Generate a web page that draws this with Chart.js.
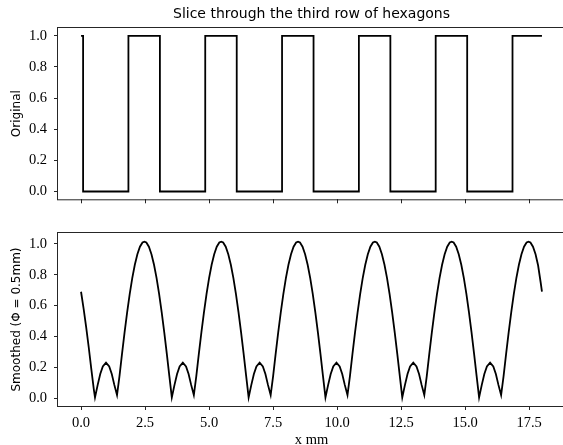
<!DOCTYPE html>
<html lang="en">
<head>
    <meta charset="UTF-8">
    <title>Slice through the third row of hexagons</title>
    <script src="https://cdn.jsdelivr.net/npm/chart.js@4/dist/chart.umd.min.js"></script>
    <style>
        html, body {
            margin: 0;
            padding: 0;
            background: #fff;
            overflow: hidden;
            width: 563px;
            height: 445px;
        }
        canvas {
            position: absolute;
            left: 0;
        }
        #topChart { top: 0; }
        #bottomChart { top: 210px; }
    </style>
</head>
<body>
    <canvas id="topChart" width="600" height="215"></canvas>
    <canvas id="bottomChart" width="600" height="245"></canvas>
    <script>
        // square wave: x where the value changes, value after each step
        const originalX = [0, 0.08, 1.85, 3.08, 4.85, 6.08, 7.85, 9.08, 10.85, 12.08, 13.85, 15.08, 16.85, 18.0];
        const originalY = [1, 0, 1, 0, 1, 0, 1, 0, 1, 0, 1, 0, 1, 1];

        // smoothed profile
        const smoothedX = [
            0, 0.1, 0.2, 0.3, 0.4, 0.5,
            0.545, 0.65, 0.75, 0.85, 0.975, 1.1, 1.2, 1.3, 1.405, 1.5, 1.6, 1.7, 1.8, 1.9, 2.0, 2.1, 2.2, 2.3, 2.4, 2.475, 2.55, 2.65, 2.75, 2.85, 2.95, 3.05, 3.15, 3.25, 3.35, 3.45,
            3.545, 3.65, 3.75, 3.85, 3.975, 4.1, 4.2, 4.3, 4.405, 4.5, 4.6, 4.7, 4.8, 4.9, 5.0, 5.1, 5.2, 5.3, 5.4, 5.475, 5.55, 5.65, 5.75, 5.85, 5.95, 6.05, 6.15, 6.25, 6.35, 6.45,
            6.545, 6.65, 6.75, 6.85, 6.975, 7.1, 7.2, 7.3, 7.405, 7.5, 7.6, 7.7, 7.8, 7.9, 8.0, 8.1, 8.2, 8.3, 8.4, 8.475, 8.55, 8.65, 8.75, 8.85, 8.95, 9.05, 9.15, 9.25, 9.35, 9.45,
            9.545, 9.65, 9.75, 9.85, 9.975, 10.1, 10.2, 10.3, 10.405, 10.5, 10.6, 10.7, 10.8, 10.9, 11.0, 11.1, 11.2, 11.3, 11.4, 11.475, 11.55, 11.65, 11.75, 11.85, 11.95, 12.05, 12.15, 12.25, 12.35, 12.45,
            12.545, 12.65, 12.75, 12.85, 12.975, 13.1, 13.2, 13.3, 13.405, 13.5, 13.6, 13.7, 13.8, 13.9, 14.0, 14.1, 14.2, 14.3, 14.4, 14.475, 14.55, 14.65, 14.75, 14.85, 14.95, 15.05, 15.15, 15.25, 15.35, 15.45,
            15.545, 15.65, 15.75, 15.85, 15.975, 16.1, 16.2, 16.3, 16.405, 16.5, 16.6, 16.7, 16.8, 16.9, 17.0, 17.1, 17.2, 17.3, 17.4, 17.475, 17.55, 17.65, 17.75, 17.85, 17.95, 18.0
        ];
        const smoothedY = [
            0.69, 0.58, 0.46, 0.33, 0.19, 0.055,
            0.005, 0.086, 0.157, 0.206, 0.23, 0.206, 0.157, 0.086, 0.02, 0.141, 0.287, 0.426, 0.556, 0.674, 0.778, 0.865, 0.933, 0.982, 1.009, 1.015, 1.009, 0.982, 0.933, 0.865, 0.778, 0.674, 0.556, 0.426, 0.287, 0.141,
            0.005, 0.086, 0.157, 0.206, 0.23, 0.206, 0.157, 0.086, 0.02, 0.141, 0.287, 0.426, 0.556, 0.674, 0.778, 0.865, 0.933, 0.982, 1.009, 1.015, 1.009, 0.982, 0.933, 0.865, 0.778, 0.674, 0.556, 0.426, 0.287, 0.141,
            0.005, 0.086, 0.157, 0.206, 0.23, 0.206, 0.157, 0.086, 0.02, 0.141, 0.287, 0.426, 0.556, 0.674, 0.778, 0.865, 0.933, 0.982, 1.009, 1.015, 1.009, 0.982, 0.933, 0.865, 0.778, 0.674, 0.556, 0.426, 0.287, 0.141,
            0.005, 0.086, 0.157, 0.206, 0.23, 0.206, 0.157, 0.086, 0.02, 0.141, 0.287, 0.426, 0.556, 0.674, 0.778, 0.865, 0.933, 0.982, 1.009, 1.015, 1.009, 0.982, 0.933, 0.865, 0.778, 0.674, 0.556, 0.426, 0.287, 0.141,
            0.005, 0.086, 0.157, 0.206, 0.23, 0.206, 0.157, 0.086, 0.02, 0.141, 0.287, 0.426, 0.556, 0.674, 0.778, 0.865, 0.933, 0.982, 1.009, 1.015, 1.009, 0.982, 0.933, 0.865, 0.778, 0.674, 0.556, 0.426, 0.287, 0.141,
            0.005, 0.086, 0.157, 0.206, 0.23, 0.206, 0.157, 0.086, 0.02, 0.141, 0.287, 0.426, 0.556, 0.674, 0.778, 0.865, 0.933, 0.982, 1.009, 1.015, 1.009, 0.982, 0.933, 0.86, 0.75, 0.69
        ];

        const xTicks = [0, 2.5, 5, 7.5, 10, 12.5, 15, 17.5];
        const yTicks = [0, 0.2, 0.4, 0.6, 0.8, 1.0];

        const titleText = 'Slice through the third row of hexagons';
        const topLabel = 'Original';
        const bottomLabel = 'Smoothed (\u03A6 = 0.5mm)';
        const xLabel = 'x mm';

        const serif = "'Liberation Serif', 'DejaVu Serif', serif";
        const sans = "'DejaVu Sans', sans-serif";
        const ink = '#262626';

        // frame around the axes plus an optional title centred over them
        const framePlugin = {
            id: 'frame',
            afterDraw(chart, args, opts) {
                const { ctx, chartArea: a } = chart;
                ctx.save();
                ctx.strokeStyle = ink;
                ctx.lineWidth = 1;
                ctx.strokeRect(a.left - 0.5, a.top - 0.5, a.right - a.left + 1, a.bottom - a.top + 1);
                if (opts.title) {
                    ctx.fillStyle = '#000';
                    ctx.font = '14px ' + sans;
                    ctx.textAlign = 'center';
                    ctx.textBaseline = 'middle';
                    ctx.fillText(opts.title, (a.left + 565) / 2, 14);
                }
                ctx.restore();
            }
        };

        function makeOptions(cfg) {
            return {
                responsive: false,
                animation: false,
                layout: { padding: { left: 0, top: cfg.top, right: 35, bottom: 0 } },
                plugins: {
                    legend: { display: false },
                    tooltip: { enabled: false },
                    frame: { title: cfg.title }
                },
                scales: {
                    x: {
                        type: 'linear',
                        min: -0.9,
                        max: 18.9,
                        afterBuildTicks: s => { s.ticks = xTicks.map(v => ({ value: v })); },
                        afterFit: s => { s.height = cfg.xHeight; },
                        border: { display: false },
                        grid: { drawOnChartArea: false, drawTicks: true, tickLength: 4, color: ink },
                        ticks: {
                            display: cfg.xLabels,
                            padding: 4,
                            color: '#000',
                            font: { family: serif, size: 14.5 },
                            maxRotation: 0,
                            autoSkip: false,
                            callback: v => v.toFixed(1)
                        },
                        title: {
                            display: cfg.xLabels,
                            text: xLabel,
                            color: '#000',
                            font: { family: serif, size: 14.5 },
                            padding: { top: 0, bottom: 6 }
                        }
                    },
                    y: {
                        type: 'linear',
                        min: cfg.yMin,
                        max: cfg.yMax,
                        afterBuildTicks: s => { s.ticks = yTicks.map(v => ({ value: v })); },
                        afterFit: s => { s.width = 58; },
                        border: { display: false },
                        grid: { drawOnChartArea: false, drawTicks: true, tickLength: 4, color: ink },
                        ticks: {
                            padding: 7,
                            color: '#000',
                            font: { family: serif, size: 14.5 },
                            autoSkip: false,
                            callback: v => v.toFixed(1)
                        },
                        title: {
                            display: true,
                            text: cfg.yLabel,
                            color: '#000',
                            font: { family: sans, size: 12 },
                            padding: { top: 10, bottom: 0 }
                        }
                    }
                }
            };
        }

        new Chart(document.getElementById('topChart'), {
            type: 'line',
            data: {
                datasets: [{
                    data: originalX.map((x, i) => ({ x: x, y: originalY[i] })),
                    borderColor: '#000',
                    borderWidth: 1.8,
                    pointRadius: 0,
                    stepped: true,
                    fill: false
                }]
            },
            options: makeOptions({ top: 28, xHeight: 15, xLabels: false, yMin: -0.05, yMax: 1.05, yLabel: topLabel, title: titleText }),
            plugins: [framePlugin]
        });

        new Chart(document.getElementById('bottomChart'), {
            type: 'line',
            data: {
                datasets: [{
                    data: smoothedX.map((x, i) => ({ x: x, y: smoothedY[i] })),
                    borderColor: '#000',
                    borderWidth: 1.8,
                    pointRadius: 0,
                    tension: 0,
                    fill: false
                }]
            },
            options: makeOptions({ top: 23, xHeight: 49, xLabels: true, yMin: -0.051, yMax: 1.071, yLabel: bottomLabel, title: null }),
            plugins: [framePlugin]
        });
    </script>
</body>
</html>
